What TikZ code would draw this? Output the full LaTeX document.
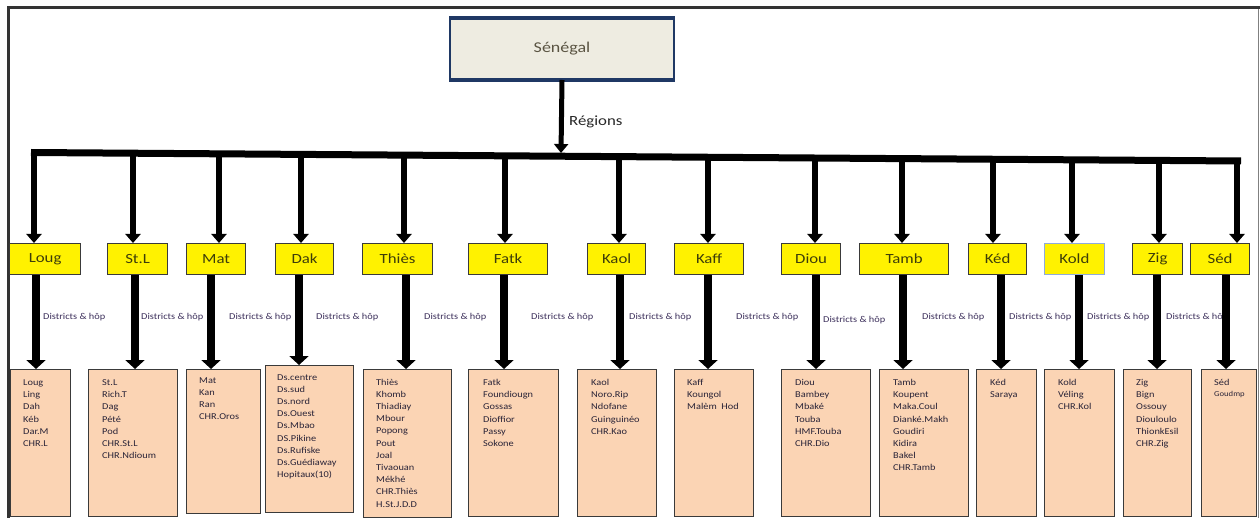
\documentclass[tikz,border=0pt]{standalone}
\usepackage{fontspec}
\setmainfont{Carlito}
\newfontfamily\listfont[FakeStretch=1.15]{Carlito}
\newfontfamily\headfont[FakeStretch=1.2]{Carlito}
\usetikzlibrary{arrows.meta,calc}

\definecolor{frameline}{HTML}{333333}
\definecolor{navy}{HTML}{1F3864}
\definecolor{tanfill}{HTML}{EEECE1}
\definecolor{sentext}{HTML}{5A5442}
\definecolor{peach}{HTML}{FBD4B4}
\definecolor{boxline}{HTML}{3A3A3A}
\definecolor{lbltext}{HTML}{3B2E5A}
\definecolor{listtext}{HTML}{2A2438}
\definecolor{regtext}{HTML}{3D3D0A}
\definecolor{koldline}{HTML}{8FAADC}

\tikzset{
  rootbox/.style={fill=tanfill, draw=navy, line width=2pt, inner sep=0pt,
    anchor=north west, text=sentext, font=\headfont\fontsize{15}{18}\selectfont},
  regbox/.style={fill=yellow, draw=boxline, line width=1.2pt, inner sep=0pt,
    minimum height=31pt, anchor=north west, text=regtext,
    font=\headfont\fontsize{14}{16}\selectfont},
  distbox/.style={fill=peach, draw=boxline, line width=1.2pt, inner sep=0pt,
    anchor=north west},
  listtxt/.style={inner sep=0pt, text=listtext, font=\listfont\fontsize{9}{11}\selectfont},
  smalltxt/.style={inner sep=0pt, text=listtext, font=\listfont\fontsize{7.5}{9}\selectfont},
  lbl/.style={inner sep=0pt, anchor=west, text=lbltext, font=\listfont\fontsize{9}{11}\selectfont},
  rootarrow/.style={line width=5pt, -{Triangle[width=14pt,length=9pt]}},
  droparrow/.style={line width=5.5pt, -{Triangle[width=15pt,length=9pt]}},
  linkarrow/.style={line width=8pt, -{Triangle[width=19pt,length=9pt]}},
}

% one text line per entry, 12.2pt apart
\newcommand\distlist[4]{%
  \foreach \t [count=\i from 0] in {#4}
    \node[listtxt, anchor=base west] (#1-\i) at (#2, {#3+12.2*\i}) {\t};}

\newcommand\dlabel[3]{\node[lbl] (#1) at (#2,#3) {Districts \& hôp};}

% a bar drop: name, x position, target region node
\newcommand\drop[3]{%
  \coordinate (#1) at ($(barL)!{(#2-31)/1210}!(barR)$);
  \draw[droparrow] (#1) -- (#3.north -| #1);}

% a link from region box to its district box at a given x
\newcommand\link[3]{%
  \coordinate (#1) at (#2,300);
  \draw[linkarrow] (r-#3.south -| #1) -- (d-#3.north -| #1);}

\begin{document}
\begin{tikzpicture}[x=1pt, y=-1pt]
\useasboundingbox (0,0) rectangle (1260,518);

% outer frame
\draw[frameline, line width=3pt] (8.5,518) -- (8.5,8) -- (1260,8);
\draw[gray, line width=1.2pt] (1258.5,9.5) -- (1258.5,518);

% country box
\node[rootbox, minimum width=224pt, minimum height=60pt] (sen) at (449,18) {Sénégal};
\draw[navy, line width=4pt] (sen.north west) -- (sen.north east);
\draw[navy, line width=4pt] (sen.south west) -- (sen.south east);

% region boxes
\node[regbox, minimum width=71pt] (r-loug) at (9,243) {Loug};
\node[regbox, minimum width=60pt] (r-stl) at (107,243) {St.L};
\node[regbox, minimum width=59pt] (r-mat) at (186,243) {Mat};
\node[regbox, minimum width=58pt] (r-dak) at (275,243) {Dak};
\node[regbox, minimum width=70pt] (r-thies) at (362,243) {Thiès};
\node[regbox, minimum width=79pt] (r-fatk) at (468,243) {Fatk};
\node[regbox, minimum width=58pt] (r-kaol) at (587,243) {Kaol};
\node[regbox, minimum width=69pt] (r-kaff) at (674,243) {Kaff};
\node[regbox, minimum width=59pt] (r-diou) at (781,243) {Diou};
\node[regbox, minimum width=89pt] (r-tamb) at (859,243) {Tamb};
\node[regbox, minimum width=58pt] (r-ked) at (968,243) {Kéd};
\node[regbox, minimum width=60pt, draw=koldline, line width=0.8pt] (r-kold) at (1044,243) {Kold};
\node[regbox, minimum width=50pt] (r-zig) at (1132,243) {Zig};
\node[regbox, minimum width=59pt] (r-sed) at (1190,243) {Séd};

% country to regions
\coordinate (barL) at (31,152.5);
\coordinate (barR) at (1241,161);
\coordinate (hub) at (561,153);
\draw[rootarrow] (sen.south) -- (hub);
\node[inner sep=0pt, anchor=west, text=black!85, font=\headfont\fontsize{14}{16}\selectfont]
  (regions) at (569,122) {Régions};
\draw[line width=7pt] (barL) -- (barR);
\drop{b1}{34}{r-loug}
\drop{b2}{133}{r-stl}
\drop{b3}{219}{r-mat}
\drop{b4}{301}{r-dak}
\drop{b5}{404}{r-thies}
\drop{b6}{505}{r-fatk}
\drop{b7}{619}{r-kaol}
\drop{b8}{708}{r-kaff}
\drop{b9}{815}{r-diou}
\drop{b10}{902}{r-tamb}
\drop{b11}{993}{r-ked}
\drop{b12}{1072}{r-kold}
\drop{b13}{1159}{r-zig}
\drop{b14}{1237}{r-sed}

% district boxes
\node[distbox, minimum width=60pt, minimum height=147pt] (d-loug) at (10,369) {};
\node[distbox, minimum width=89pt, minimum height=147pt] (d-stl) at (88,369) {};
\node[distbox, minimum width=74pt, minimum height=144pt] (d-mat) at (186,369) {};
\node[distbox, minimum width=88pt, minimum height=147pt] (d-dak) at (265,365) {};
\node[distbox, minimum width=88pt, minimum height=148pt] (d-thies) at (363,369) {};
\node[distbox, minimum width=90pt, minimum height=147pt] (d-fatk) at (468,369) {};
\node[distbox, minimum width=79pt, minimum height=147pt] (d-kaol) at (577,369) {};
\node[distbox, minimum width=79pt, minimum height=147pt] (d-kaff) at (674,369) {};
\node[distbox, minimum width=89pt, minimum height=147pt] (d-diou) at (781,369) {};
\node[distbox, minimum width=89pt, minimum height=147pt] (d-tamb) at (879,369) {};
\node[distbox, minimum width=60pt, minimum height=147pt] (d-ked) at (976,369) {};
\node[distbox, minimum width=70pt, minimum height=147pt] (d-kold) at (1044,369) {};
\node[distbox, minimum width=68pt, minimum height=147pt] (d-zig) at (1123,369) {};
\node[distbox, minimum width=55pt, minimum height=147pt] (d-sed) at (1201,369) {};

% district lists
\distlist{t-loug}{23}{385.5}{Loug,Ling,Dah,Kéb,Dar.M,CHR.L}
\distlist{t-stl}{102}{385.5}{St.L,Rich.T,Dag,Pété,Pod,CHR.St.L,CHR.Ndioum}
\distlist{t-mat}{199}{383}{Mat,Kan,Ran,CHR.Oros}
\distlist{t-dak}{277}{380}{Ds.centre,Ds.sud,Ds.nord,Ds.Ouest,Ds.Mbao,DS.Pikine,Ds.Rufiske,Ds.Guédiaway,Hopitaux(10)}
\distlist{t-thies}{376}{385}{Thiès,Khomb,Thiadiay,Mbour,Popong,Pout,Joal,Tivaouan,Mékhé,CHR.Thiès,H.St.J.D.D}
\distlist{t-fatk}{483}{385.5}{Fatk,Foundiougn,Gossas,Dioffior,Passy,Sokone}
\distlist{t-kaol}{591}{385.5}{Kaol,Noro.Rip,Ndofane,Guinguinéo,CHR.Kao}
\distlist{t-kaff}{687}{385.5}{Kaff,Koungol,Malèm~~Hod}
\distlist{t-diou}{795}{385.5}{Diou,Bambey,Mbaké,Touba,HMF.Touba,CHR.Dio}
\distlist{t-tamb}{893}{385.5}{Tamb,Koupent,Maka.Coul,Dianké.Makh,Goudiri,Kidira,Bakel,CHR.Tamb}
\distlist{t-ked}{990}{385.5}{Kéd,Saraya}
\distlist{t-kold}{1058}{385.5}{Kold,Véling,CHR.Kol}
\distlist{t-zig}{1136}{385.5}{Zig,Bign,Ossouy,Diouloulo,ThionkEsil,CHR.Zig}
\distlist{t-sed}{1214}{385.5}{Séd}
\node[smalltxt, anchor=base west] (t-sed-1) at (1214,396) {Goudmp};

% link labels
\dlabel{l1}{43}{317}
\dlabel{l2}{141}{317}
\dlabel{l3}{229}{317}
\dlabel{l4}{316}{317}
\dlabel{l5}{424}{317}
\dlabel{l6}{531}{317}
\dlabel{l7}{629}{317}
\dlabel{l8}{736}{317}
\dlabel{l9}{823}{320}
\dlabel{l10}{922}{317}
\dlabel{l11}{1009}{317}
\dlabel{l12}{1087}{317}
\dlabel{l13}{1166}{317}

% region to district links
\link{k1}{36}{loug}
\link{k2}{135}{stl}
\link{k3}{211}{mat}
\link{k4}{299}{dak}
\link{k5}{406}{thies}
\link{k6}{504}{fatk}
\link{k7}{620}{kaol}
\link{k8}{708}{kaff}
\link{k9}{816}{diou}
\link{k10}{903}{tamb}
\link{k11}{1001}{ked}
\link{k12}{1079}{kold}
\link{k13}{1157}{zig}
\link{k14}{1226}{sed}
\end{tikzpicture}
\end{document}
